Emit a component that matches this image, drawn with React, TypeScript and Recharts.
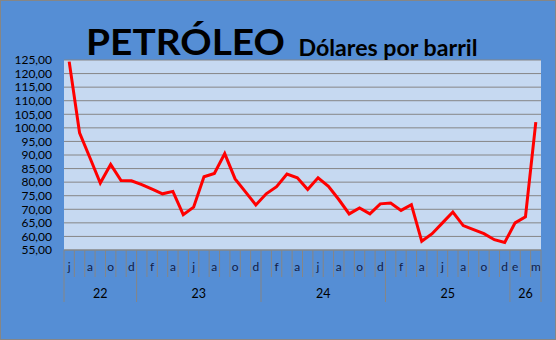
import React from 'react';
import { LineChart, Line, XAxis, YAxis, CartesianGrid } from 'recharts';

// Month tick labels (one per monthly category; blank where the original omits the label)
const monthLabels = [
  'j', '', 'a', '', 'o', '', 'd',
  '', 'f', '', 'a', '', 'j', '', 'a', '', 'o', '', 'd',
  '', 'f', '', 'a', '', 'j', '', 'a', '', 'o', '', 'd',
  '', 'f', '', 'a', '', 'j', '', 'a', '', 'o', '', 'd',
  'e', '', 'm',
];

// Year groups and number of months in each
const yearLabels = ['22', '23', '24', '25', '26'];
const yearMonthCounts = [7, 12, 12, 12, 3];

// Oil price, dollars per barrel
const prices = [
  124.4, 98.2, 89.0, 79.7, 86.5, 80.6, 80.5,
  79.1, 77.4, 75.7, 76.6, 68.0, 70.8, 82.0, 83.2, 90.5, 81.2, 76.4, 71.6,
  75.7, 78.3, 83.0, 81.6, 77.3, 81.6, 78.5, 73.6, 68.3, 70.5, 68.3, 72.0,
  72.3, 69.6, 71.7, 58.2, 61.0, 65.0, 69.0, 64.0, 62.5, 61.0, 58.8, 57.8,
  65.0, 67.2, 102.1,
];

const yTicks = [55, 60, 65, 70, 75, 80, 85, 90, 95, 100, 105, 110, 115, 120, 125];

const data = prices.map((price, i) => ({ i, price, month: monthLabels[i] }));

const n = prices.length;
const centerTicks = prices.map((_, i) => i);
const edgeTicks = Array.from({ length: n + 1 }, (_, k) => k - 0.5);
const xTicks = [...centerTicks, ...edgeTicks].sort((a, b) => a - b);

const yearEdgeSet = new Set<number>();
const yearCenterMap = new Map<number, string>();
{
  let start = 0;
  yearEdgeSet.add(-0.5);
  yearLabels.forEach((lab, k) => {
    const c = yearMonthCounts[k];
    yearCenterMap.set(start + (c - 1) / 2, lab);
    start += c;
    yearEdgeSet.add(start - 0.5);
  });
}

const FONT = 'Lato, "Open Sans", sans-serif';
const GRID = '#868686';

const XTick = (props: any) => {
  const { x, y, payload } = props;
  const v = payload.value as number;
  const els: React.ReactNode[] = [];
  if (Number.isInteger(v)) {
    const lab = monthLabels[v];
    if (lab) {
      els.push(
        <text key="m" x={x} y={y + 21} textAnchor="middle" fontSize={12} fontFamily={FONT} fill="#141c44">
          {lab}
        </text>
      );
    }
  } else {
    const isYear = yearEdgeSet.has(v);
    els.push(
      <line key="l" x1={x} x2={x} y1={y} y2={y + (isYear ? 52 : 27)} stroke={GRID} strokeWidth={1} />
    );
  }
  const yl = yearCenterMap.get(v);
  if (yl) {
    els.push(
      <text key="y" x={x} y={y + 48} textAnchor="middle" fontSize={12.5} fontFamily={FONT} fill="#000">
        {yl}
      </text>
    );
  }
  return <g>{els}</g>;
};

export default function App() {
  return (
    <div
      style={{
        position: 'absolute',
        left: 0,
        top: 0,
        width: 556,
        height: 340,
        background: '#558ED5',
        boxShadow: 'inset 0 0 0 1px #868686',
      }}
    >
      <LineChart
        width={556}
        height={340}
        data={data}
        margin={{ top: 60, right: 15, bottom: 37, left: 0 }}
      >
        <CartesianGrid vertical={false} stroke={GRID} fill="#C6D9F1" fillOpacity={1} />
        <XAxis
          dataKey="i"
          type="number"
          domain={[-0.5, n - 0.5]}
          ticks={xTicks}
          interval={0}
          height={53}
          tickLine={false}
          tickSize={0}
          tickMargin={0}
          axisLine={{ stroke: GRID }}
          tick={<XTick />}
        />
        <YAxis
          type="number"
          domain={[55, 125]}
          ticks={yTicks}
          interval={0}
          width={64}
          axisLine={false}
          tickLine={false}
          tickSize={0}
          tickMargin={12}
          tick={{ fill: '#000', fontSize: 12, fontFamily: FONT }}
          tickFormatter={(v: number) => v.toFixed(2).replace('.', ',')}
        />
        <Line
          type="linear"
          dataKey="price"
          stroke="#FF0000"
          strokeWidth={3}
          dot={false}
          isAnimationActive={false}
        />
      </LineChart>
      <svg
        width={556}
        height={72}
        style={{ position: 'absolute', left: 0, top: 0, pointerEvents: 'none' }}
      >
        <text
          x={86}
          y={55}
          fontFamily={FONT}
          fontWeight={700}
          fontSize={37}
          fill="#000"
          textLength={199}
          lengthAdjust="spacingAndGlyphs"
        >
          PETRÓLEO
        </text>
        <text
          x={298.5}
          y={56}
          fontFamily={FONT}
          fontWeight={700}
          fontSize={22}
          fill="#000"
          textLength={179}
          lengthAdjust="spacingAndGlyphs"
        >
          Dólares por barril
        </text>
      </svg>
    </div>
  );
}
